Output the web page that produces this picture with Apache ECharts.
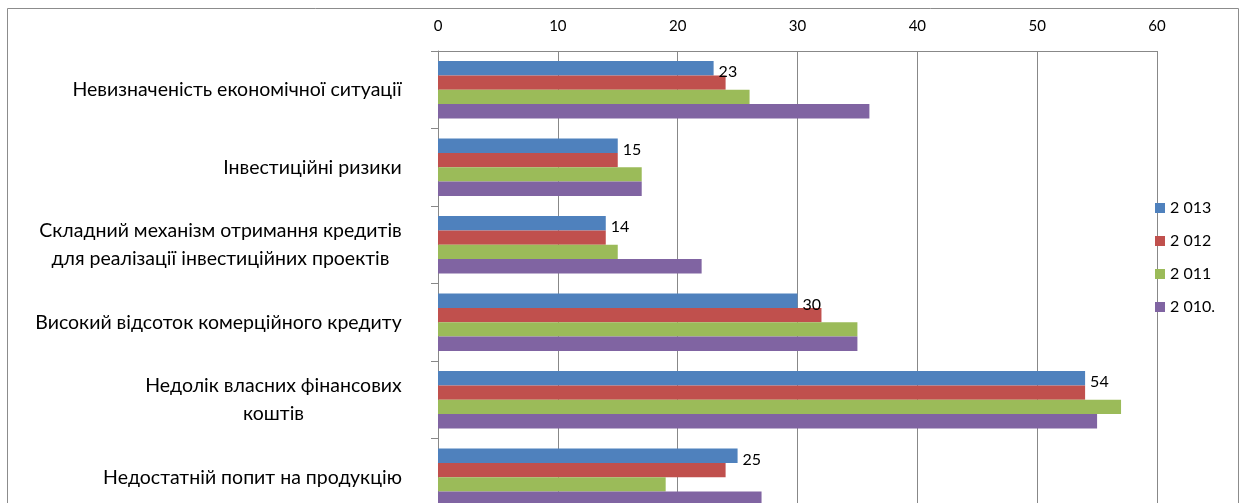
<!DOCTYPE html>
<html>
<head>
<meta charset="utf-8">
<title>Чинники, що стримують інвестиційну діяльність</title>
<script src="https://cdn.jsdelivr.net/npm/echarts@6/dist/echarts.min.js"></script>
<style>
  html, body { margin: 0; padding: 0; background: #fff; }
  #chart { width: 1244px; height: 503px; }
</style>
</head>
<body>
<div id="chart"></div>
<script>
// Categories (top to bottom) and yearly shares
const categories = [
  'Невизначеність економічної ситуації',
  'Інвестиційні ризики',
  'Складний механізм отримання кредитів\nдля реалізації інвестиційних проектів',
  'Високий відсоток комерційного кредиту',
  'Недолік власних фінансових\nкоштів',
  'Недостатній попит на продукцію'
];
const seriesNames = ['2 013', '2 012', '2 011', '2 010.'];
const values2013 = [23, 15, 14, 30, 54, 25];
const values2012 = [24, 15, 14, 32, 54, 24];
const values2011 = [26, 17, 15, 35, 57, 19];
const values2010 = [36, 17, 22, 35, 55, 27];
const axisTicks = [0, 10, 20, 30, 40, 50, 60];

const FONT = 'Lato, "Liberation Sans", sans-serif';
const NUM_SIZE = 15;
const CAT_SIZE = 19.5;
const colors = ['#4F81BD', '#C0504D', '#9BBB59', '#8064A2'];

// Multi-line category labels: lines centred within the block, block right-aligned
const measureCtx = document.createElement('canvas').getContext('2d');
measureCtx.font = CAT_SIZE + 'px ' + FONT;
const rich = {};
categories.forEach(function (c, i) {
  const lines = c.split('\n');
  const w = Math.max.apply(null, lines.map(function (l) { return measureCtx.measureText(l).width; }));
  rich['l' + i] = {
    width: Math.ceil(w),
    align: 'center',
    fontFamily: FONT,
    fontSize: CAT_SIZE,
    color: '#000',
    lineHeight: 28
  };
});

const chart = echarts.init(document.getElementById('chart'), null, { renderer: 'canvas' });

const yearData = [values2013, values2012, values2011, values2010];

chart.setOption({
  animation: false,
  backgroundColor: '#fff',
  color: colors,
  textStyle: { fontFamily: FONT },
  graphic: [{
    type: 'rect',
    silent: true,
    shape: { x: 7.5, y: 8.5, width: 1231, height: 600 },
    style: { fill: 'none', stroke: '#8c8c8c', lineWidth: 1 }
  }],
  grid: {
    left: 438,
    top: 51,
    right: 87,
    bottom: -13,
    containLabel: false,
    outerBoundsMode: 'none'
  },
  legend: {
    orient: 'vertical',
    left: 1155,
    top: 199,
    padding: 0,
    itemWidth: 10,
    itemHeight: 10,
    itemGap: 15,
    icon: 'rect',
    textStyle: { fontFamily: FONT, fontSize: 16, color: '#000', lineHeight: 18 },
    data: seriesNames
  },
  xAxis: {
    type: 'value',
    position: 'top',
    min: axisTicks[0],
    max: axisTicks[axisTicks.length - 1],
    interval: axisTicks[1] - axisTicks[0],
    axisLine: { show: true, lineStyle: { color: '#888', width: 1 } },
    axisTick: { show: false },
    axisLabel: { margin: 17, color: '#000', fontFamily: FONT, fontSize: NUM_SIZE },
    splitLine: { show: true, lineStyle: { color: '#888', width: 1 } }
  },
  yAxis: {
    type: 'category',
    inverse: true,
    data: categories,
    axisLine: { show: true, lineStyle: { color: '#888', width: 1 } },
    axisTick: { show: true, length: 7, interval: 0, lineStyle: { color: '#888' } },
    axisLabel: {
      interval: 0,
      margin: 36,
      formatter: function (value, index) {
        return value.split('\n').map(function (l) { return '{l' + index + '|' + l + '}'; }).join('\n');
      },
      rich: rich
    },
    splitLine: { show: false }
  },
  series: yearData.map(function (vals, si) {
    return {
      name: seriesNames[si],
      type: 'bar',
      data: vals,
      barGap: '0%',
      barCategoryGap: '26%',
      itemStyle: { color: colors[si] },
      label: si === 0 ? {
        show: true,
        position: 'right',
        distance: 5,
        offset: [0, 4],
        color: '#000',
        fontFamily: FONT,
        fontSize: 16
      } : { show: false }
    };
  })
});
</script>
</body>
</html>
